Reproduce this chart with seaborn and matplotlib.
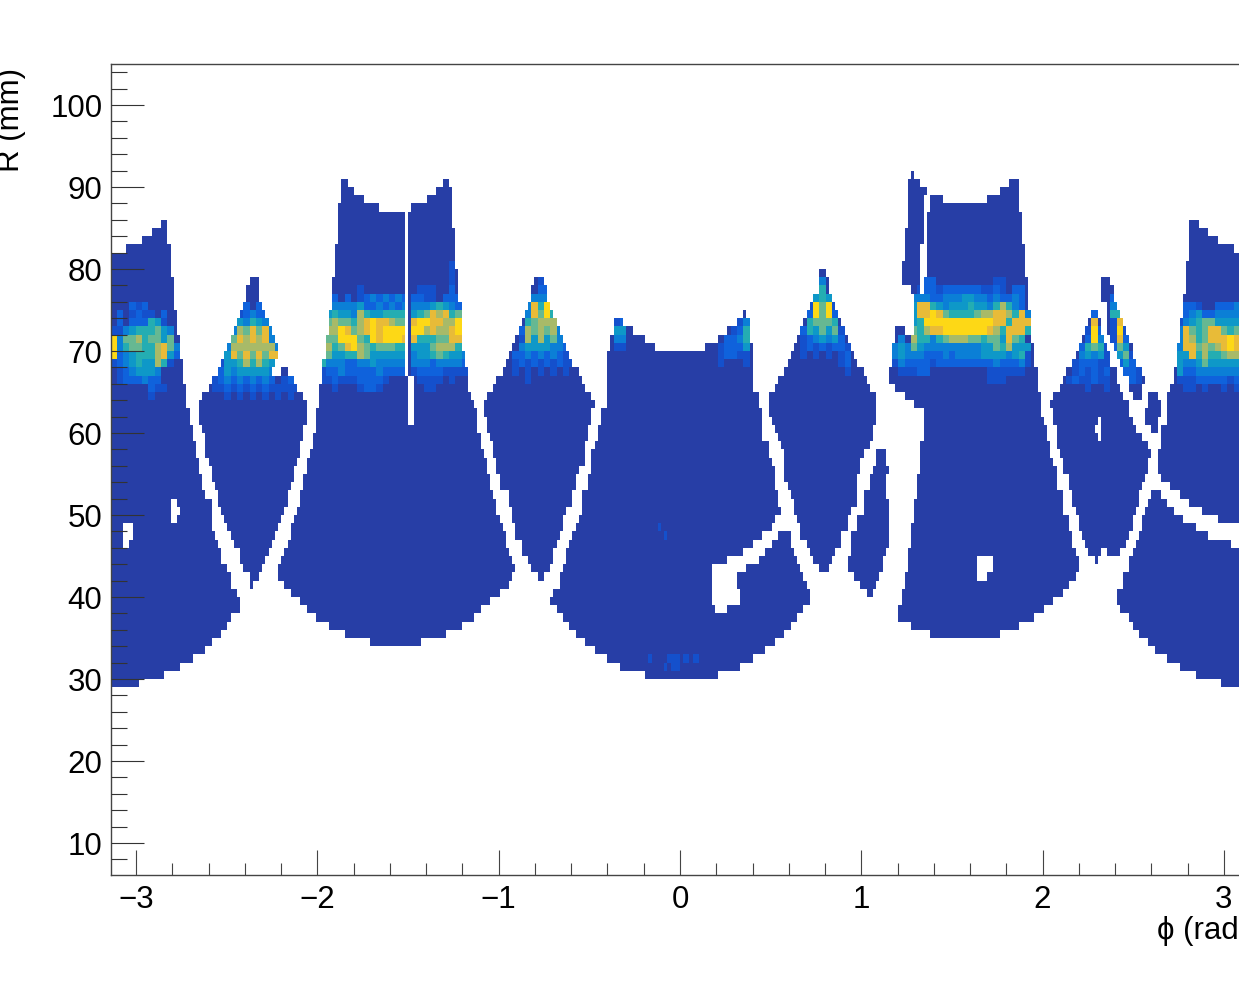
import numpy as np
import pandas as pd
import seaborn as sns
import matplotlib.pyplot as plt
from matplotlib.colors import ListedColormap
from matplotlib.ticker import MultipleLocator

# occupancy map of the detector: phi bins of 1 degree, R bins of 1 mm
# each lobe: first R row, then phi limits of the filled cells for each R row going up
L1_LEFT = [-3.14] * 53 + [-3.05, -2.97, -2.91, -2.86]
L1_RIGHT = [-2.99, -2.85, -2.75, -2.69, -2.61, -2.58, -2.53, -2.50, -2.47, -2.43, -2.43, -2.44, -2.47, -2.48,
            -2.50, -2.53, -2.53, -2.55, -2.56, -2.58, -2.58, -2.59, -2.59, -2.61, -2.63, -2.63, -2.65, -2.65,
            -2.67, -2.67, -2.69, -2.69, -2.71, -2.71, -2.72, -2.72, -2.72, -2.74, -2.74, -2.74, -2.76, -2.76,
            -2.76, -2.77, -2.77, -2.77, -2.80, -2.80, -2.80, -2.80, -2.81, -2.81, -2.81, -2.81, -2.82, -2.82, -2.82]

L2_LEFT = [-2.37, -2.38, -2.40, -2.42, -2.43, -2.46, -2.47, -2.49, -2.51, -2.53, -2.55, -2.55, -2.56, -2.58, -2.58,
           -2.60, -2.62, -2.62, -2.62, -2.64, -2.65, -2.65, -2.65, -2.64, -2.60, -2.58, -2.55, -2.53, -2.51, -2.49,
           -2.47, -2.46, -2.44, -2.42, -2.40, -2.39, -2.39, -2.37]
L2_RIGHT = [-2.36, -2.33, -2.31, -2.29, -2.27, -2.26, -2.24, -2.22, -2.20, -2.18, -2.16, -2.16, -2.15, -2.13, -2.13,
            -2.11, -2.09, -2.09, -2.08, -2.07, -2.06, -2.06, -2.06, -2.07, -2.11, -2.13, -2.25, -2.23, -2.22, -2.22,
            -2.23, -2.25, -2.27, -2.29, -2.31, -2.32, -2.32, -2.33]
L2B_LEFT = [-2.20]
L2B_RIGHT = [-2.16]

L3_LEFT = [-1.71, -1.85, -1.93, -2.00, -2.06, -2.09, -2.14, -2.18, -2.21, -2.21, -2.20, -2.18, -2.16, -2.14, -2.14,
           -2.13, -2.11, -2.09, -2.09, -2.08, -2.08, -2.06, -2.06, -2.05, -2.03, -2.03, -2.01, -2.01, -2.00, -1.99,
           -1.99, -1.99, -1.97, -1.97, -1.97, -1.95, -1.95, -1.95, -1.94, -1.94, -1.94, -1.92, -1.92, -1.92, -1.92,
           -1.90, -1.90, -1.90, -1.90, -1.88, -1.88, -1.88, -1.88, -1.88, -1.86, -1.86, -1.86]
L3_RIGHT = [-1.43, -1.29, -1.20, -1.13, -1.10, -1.05, -0.99, -0.95, -0.93, -0.91, -0.93, -0.94, -0.96, -0.96, -0.98,
            -0.99, -1.01, -1.01, -1.03, -1.05, -1.05, -1.06, -1.06, -1.09, -1.10, -1.10, -1.12, -1.12, -1.12, -1.14,
            -1.15, -1.17, -1.17, -1.17, -1.19, -1.19, -1.20, -1.20, -1.20, -1.20, -1.20, -1.20, -1.22, -1.22, -1.22,
            -1.22, -1.24, -1.24, -1.24, -1.24, -1.24, -1.26, -1.26, -1.26, -1.26, -1.26, -1.27]

L4_LEFT = [-0.79, -0.82, -0.84, -0.87, -0.88, -0.91, -0.91, -0.93, -0.93, -0.95, -0.95, -0.99, -0.99, -1.01, -1.01,
           -1.03, -1.03, -1.05, -1.06, -1.06, -1.08, -1.08, -1.07, -1.03, -1.01, -0.98, -0.96, -0.94, -0.92, -0.91,
           -0.89, -0.87, -0.85, -0.84, -0.82, -0.82, -0.80]
L4_RIGHT = [-0.75, -0.72, -0.70, -0.70, -0.68, -0.66, -0.65, -0.65, -0.62, -0.60, -0.60, -0.57, -0.57, -0.55, -0.52,
            -0.52, -0.52, -0.51, -0.51, -0.49, -0.49, -0.47, -0.49, -0.52, -0.54, -0.56, -0.59, -0.61, -0.63, -0.65,
            -0.67, -0.68, -0.70, -0.72, -0.73, -0.74, -0.75]

L5_LEFT = [-0.20, -0.33, -0.40, -0.47, -0.52, -0.58, -0.61, -0.65, -0.68, -0.72, -0.70, -0.67, -0.67, -0.65, -0.62,
           -0.62, -0.61, -0.59, -0.58, -0.56, -0.54, -0.54, -0.54, -0.51, -0.50, -0.49, -0.49, -0.49, -0.47, -0.46,
           -0.46, -0.43, -0.43, -0.41, -0.41, -0.41, -0.40, -0.40, -0.40, -0.40, -0.38, -0.38, -0.36, -0.36, 0.35]
L5_RIGHT = [0.21, 0.34, 0.40, 0.47, 0.52, 0.58, 0.61, 0.65, 0.68, 0.72, 0.72, 0.69, 0.68, 0.66, 0.65, 0.63, 0.61,
            0.61, 0.50, 0.53, 0.56, 0.54, 0.54, 0.53, 0.53, 0.52, 0.51, 0.49, 0.48, 0.46, 0.46, 0.45, 0.45, 0.44,
            0.44, 0.41, 0.41, 0.41, 0.40, 0.40, 0.40, 0.39, 0.39, 0.39, 0.37]

L6_LEFT = [0.76, 0.73, 0.71, 0.69, 0.67, 0.67, 0.65, 0.63, 0.62, 0.61, 0.60, 0.58, 0.58, 0.58, 0.57, 0.56, 0.54,
           0.52, 0.51, 0.49, 0.49, 0.49, 0.52, 0.54, 0.58, 0.60, 0.61, 0.63, 0.65, 0.67, 0.68, 0.70, 0.72, 0.73,
           0.76, 0.76, 0.77]
L6_RIGHT = [0.82, 0.84, 0.85, 0.89, 0.89, 0.92, 0.92, 0.94, 0.97, 0.97, 0.98, 0.98, 1.00, 1.00, 1.01, 1.05, 1.06,
            1.06, 1.08, 1.08, 1.08, 1.08, 1.05, 1.03, 1.01, 0.98, 0.96, 0.94, 0.93, 0.91, 0.89, 0.87, 0.86, 0.84,
            0.82, 0.82, 0.80]

L6B_LEFT = [1.03, 1.00, 0.96, 0.93, 0.93, 0.94, 0.95, 0.95, 0.98, 0.98, 1.02, 1.02, 1.02, 1.04, 1.05, 1.06, 1.08, 1.09]
L6B_RIGHT = [1.07, 1.09, 1.10, 1.12, 1.12, 1.13, 1.15, 1.15, 1.15, 1.15, 1.15, 1.15, 1.13, 1.13, 1.13, 1.15, 1.14, 1.13]

L7_LEFT = [1.38, 1.27, 1.20, 1.20, 1.22, 1.22, 1.24, 1.24, 1.26, 1.26, 1.26, 1.27, 1.27, 1.27, 1.29, 1.29, 1.29, 1.31,
           1.31, 1.31, 1.33, 1.33, 1.33, 1.33, 1.34, 1.34, 1.34, 1.34, 1.29, 1.24, 1.19, 1.15, 1.15, 1.17, 1.17, 1.17,
           1.19, 1.19, 1.30, 1.30, 1.30, 1.29, 1.35, 1.35, 1.36, 1.36, 1.36, 1.36, 1.36, 1.36, 1.36, 1.36, 1.38, 1.38,
           1.77, 1.81]
L7_RIGHT = [1.76, 1.86, 1.95, 2.00, 2.06, 2.11, 2.15, 2.18, 2.20, 2.20, 2.18, 2.16, 2.16, 2.14, 2.14, 2.12, 2.11, 2.11,
            2.08, 2.08, 2.08, 2.06, 2.05, 2.05, 2.03, 2.03, 2.00, 1.99, 1.99, 1.99, 1.97, 1.97, 1.97, 1.95, 1.95, 1.95,
            1.94, 1.94, 1.94, 1.94, 1.92, 1.92, 1.92, 1.92, 1.90, 1.90, 1.90, 1.90, 1.89, 1.89, 1.89, 1.88, 1.86, 1.86,
            1.86, 1.86]

L7B_LEFT = [1.27, 1.22, 1.22, 1.22, 1.24, 1.24, 1.24, 1.24, 1.26, 1.26, 1.26, 1.26, 1.26, 1.26, 1.27]
L7B_RIGHT = [1.33, 1.33, 1.33, 1.33, 1.33, 1.33, 1.35, 1.35, 1.35, 1.35, 1.35, 1.35, 1.36, 1.33, 1.29]

L8_LEFT = [2.29, 2.26, 2.24, 2.22, 2.20, 2.20, 2.18, 2.16, 2.16, 2.14, 2.14, 2.12, 2.11, 2.10, 2.08, 2.08, 2.07, 2.06,
           2.06, 2.05, 2.06, 2.09, 2.11, 2.13, 2.16, 2.18, 2.20, 2.22, 2.23, 2.26, 2.27]
L8_RIGHT = [2.41, 2.43, 2.46, 2.47, 2.50, 2.50, 2.52, 2.53, 2.53, 2.55, 2.57, 2.58, 2.58, 2.60, 2.58, 2.55, 2.52, 2.50,
            2.48, 2.47, 2.44, 2.43, 2.41, 2.40, 2.38, 2.37, 2.36, 2.34, 2.32, 2.32, 2.31]

L8B_LEFT = [2.50, 2.48, 2.47, 2.44, 2.43, 2.40, 2.39, 2.37, 2.36, 2.36, 2.36, 2.35, 2.33, 2.33, 2.33]
L8B_RIGHT = [2.55, 2.55, 2.56, 2.54, 2.52, 2.50, 2.49, 2.47, 2.46, 2.44, 2.43, 2.41, 2.39, 2.39, 2.38]

L8C_LEFT = [2.60, 2.57, 2.57, 2.59, 2.59]
L8C_RIGHT = [2.64, 2.64, 2.66, 2.66, 2.64]

L9_LEFT = [2.99, 2.85, 2.76, 2.69, 2.62, 2.58, 2.53, 2.50, 2.47, 2.43, 2.41, 2.41, 2.44, 2.45, 2.47, 2.48, 2.50, 2.52,
           2.53, 2.55, 2.55, 2.57, 2.58, 2.60, 2.71, 2.66, 2.63, 2.64, 2.64, 2.66, 2.66, 2.66, 2.68, 2.69, 2.69, 2.69,
           2.71, 2.73, 2.73, 2.74, 2.74, 2.74, 2.76, 2.76, 2.76, 2.78, 2.78, 2.78, 2.80, 2.80, 2.80, 2.80, 2.81, 2.81,
           2.81, 2.81, 2.81]
L9_RIGHT = [3.14] * 53 + [3.06, 2.97, 2.91, 2.86]

LOBES = [(29, L1_LEFT, L1_RIGHT), (41, L2_LEFT, L2_RIGHT), (67, L2B_LEFT, L2B_RIGHT), (34, L3_LEFT, L3_RIGHT),
         (42, L4_LEFT, L4_RIGHT), (30, L5_LEFT, L5_RIGHT), (43, L6_LEFT, L6_RIGHT), (40, L6B_LEFT, L6B_RIGHT),
         (35, L7_LEFT, L7_RIGHT), (77, L7B_LEFT, L7B_RIGHT), (44, L8_LEFT, L8_RIGHT), (64, L8B_LEFT, L8B_RIGHT),
         (60, L8C_LEFT, L8C_RIGHT), (29, L9_LEFT, L9_RIGHT)]

# empty cells inside the lobes
HOLE_ROWS = [46, 47, 48, 49, 50, 51, 87, 88, 89, 90]
HOLE_LO = [-3.07, -3.07, -3.07, -2.81, -2.81, -2.81, -1.66, -1.74, -1.79, -1.83]
HOLE_HI = [-3.04, -3.02, -3.02, -2.77, -2.76, -2.77, -1.48, -1.40, -1.34, -1.31]
STRIPE_ROWS = list(range(67, 87))
STRIPE_LO = -1.52
STRIPE_HI = -1.50
STRIPE2_ROWS = list(range(61, 67))
STRIPE2_LO = -1.50
STRIPE2_HI = -1.46
HOLE2_ROWS = [70, 71, 72, 73, 47, 46, 45, 44, 43, 42, 41, 40, 39, 38]
HOLE2_LO = [-0.14, -0.20, -0.26, -0.31, 0.46, 0.40, 0.35, 0.26, 0.18, 0.18, 0.18, 0.18, 0.18, 0.19]
HOLE2_HI = [0.14, 0.21, 0.26, 0.31, 0.54, 0.51, 0.47, 0.44, 0.37, 0.31, 0.31, 0.34, 0.34, 0.26]
HOLE3_ROWS = [72, 88, 44, 43, 42, 45, 44, 61, 60, 59, 46, 47, 48, 49, 50, 51, 52]
HOLE3_LO = [1.24, 1.45, 1.64, 1.64, 1.64, 2.33, 2.31, 2.31, 2.29, 2.31, 3.04, 2.92, 2.85, 2.77, 2.72, 2.69, 2.66]
HOLE3_HI = [1.30, 1.69, 1.72, 1.72, 1.69, 2.36, 2.40, 2.33, 2.33, 2.33, 3.14, 3.14, 3.14, 2.97, 2.88, 2.81, 2.76]

# few isolated cells slightly above the floor
DOT_ROWS = [48, 47, 32, 32, 32, 32, 31, 31]
DOT_LO = [-0.13, -0.09, -0.18, -0.07, 0.015, 0.07, -0.09, -0.05]
DOT_HI = [-0.105, -0.065, -0.155, 0.0, 0.055, 0.105, -0.065, 0.0]

# intensity levels around R = 70 mm, one digit per 2 degrees, first string is the top row
BAND_1 = ["00021200000", "02012110200", "02022254100", "11345556430", "93667566460", "93566557863", "92345557842",
          "12345447510", "01234443000", "01222322000", "00000021100", "00000010000"]
BAND_2 = ["000002020000000", "000012322000000", "000043543400000", "000376868300000", "000687878300000",
          "003777777730000", "004868686880000", "014457575430000", "024344444300000", "123232323201200",
          "112121212111110", "001010101010100"]
BAND_3 = ["00000010000000", "00202012323232", "01333342232323", "04544375445555", "06766578988766", "07798678989999",
          "36699965989998", "57568976566655", "76445576444444", "53332233433333", "12232222232222", "11211122221000",
          "00100012210000"]
BAND_3B = ["000000100", "000000100", "000000100", "011100200", "221102223", "333454320", "456878566", "899887799",
           "997877899", "855566885", "444677754", "344565443", "333233332", "122221111", "011110100", "001100000"]
BAND_4 = ["000001100000", "000002200000", "000033330000", "000385930000", "000386952000", "000567773000",
          "002767673000", "001747463100", "003444433200", "022323232100", "012121212110", "010101010100",
          "000100000000"]
BAND_5 = ["12", "44", "33", "11"]
BAND_5B = ["000130", "001250", "022350", "122240", "122110", "100010"]
BAND_6 = ["0000300000", "0000500000", "0004540000", "0019691000", "0029692000", "0056665000", "0254646100",
          "0123434200", "0121212210", "0101010120", "0000000120", "0000000010"]
BAND_7 = ["0000022000000000110000", "0000122122222211210220", "0003332233344332322320", "0004885434445443575320",
          "0004889865555677887583", "0004599999999999885888", "0006578899999998758885", "0307553567776656648650",
          "3436433333333344657444", "3433322232333344443451", "1322221222222222322231", "0111220000000001111110",
          "0000000000000001110000"]
BAND_8 = ["0000020000", "0000080000", "0000192000", "0000293000", "0002565100", "0003434100", "0012221100",
          "0012121200", "0121121100", "0000100100"]
BAND_8B = ["0200000", "0320000", "0550000", "0180000", "0191000", "0182000", "0264000", "0046100", "0024200",
           "0002210", "0001210"]
BAND_9 = ["0221002223", "0234223333", "1345664444", "3865688656", "3875688898", "3886767898", "4485755677",
          "4334644444", "4223333333", "1112222212", "0110100101"]

# (phi of first digit, R row of first string, strings)
BANDS = [(-3.14, 75, BAND_1), (-2.58, 75, BAND_2), (-1.99, 77, BAND_3), (-1.48, 80, BAND_3B), (-0.96, 78, BAND_4),
         (-0.36, 73, BAND_5), (0.208, 73, BAND_5B), (0.63, 78, BAND_6), (1.173, 78, BAND_7), (2.092, 74, BAND_8),
         (2.337, 76, BAND_8B), (2.739, 75, BAND_9)]

# ROOT bird style palette, level 0 is the floor of the map
LEVEL_COLORS = ['#273ea6', '#1450cc', '#0f62dc', '#0b7fd6', '#0e98c8', '#24adb2', '#66b892', '#a8ba68', '#e8bb38',
                '#fdd816']

PHI_LABEL = 'ϕ (rad)'
R_LABEL = 'R (mm)'


def build_grid():
    phi_edges = np.linspace(-np.pi, np.pi, 361)
    r_edges = np.arange(6, 106)
    centers = (phi_edges[:-1] + phi_edges[1:]) / 2
    grid = np.zeros((360, 99))

    def fill(row, lo, hi, value):
        grid[(centers >= lo) & (centers < hi), row - 6] = value

    for first_row, left, right in LOBES:
        for i in range(len(left)):
            fill(first_row + i, left[i], right[i], 1)

    for row, lo, hi in zip(HOLE_ROWS, HOLE_LO, HOLE_HI):
        fill(row, lo, hi, 0)
    for row in STRIPE_ROWS:
        fill(row, STRIPE_LO, STRIPE_HI, 0)
    for row in STRIPE2_ROWS:
        fill(row, STRIPE2_LO, STRIPE2_HI, 0)
    for row, lo, hi in zip(HOLE2_ROWS, HOLE2_LO, HOLE2_HI):
        fill(row, lo, hi, 0)
    for row, lo, hi in zip(HOLE3_ROWS, HOLE3_LO, HOLE3_HI):
        fill(row, lo, hi, 0)
    for row, lo, hi in zip(DOT_ROWS, DOT_LO, DOT_HI):
        fill(row, lo, hi, 2)

    # the band only colours cells that are already filled
    step = 2 * np.pi / 180
    for start, top_row, strings in BANDS:
        for i, digits in enumerate(strings):
            for j, digit in enumerate(digits):
                if digit == '0':
                    continue
                sel = (centers >= start + j * step) & (centers < start + (j + 1) * step)
                col = grid[:, top_row - i - 6]
                col[sel & (col > 0)] = int(digit) + 1

    return phi_edges, r_edges, centers, grid


def main():
    phi_edges, r_edges, centers, grid = build_grid()
    ix, iy = np.nonzero(grid)
    df = pd.DataFrame({'phi': centers[ix], 'R': iy + 6.5, 'level': grid[ix, iy]})

    sns.set_style('white')
    plt.rcParams['font.family'] = ['Liberation Sans', 'DejaVu Sans']
    plt.rcParams['axes.edgecolor'] = '#444444'
    plt.rcParams['axes.linewidth'] = 1.0
    plt.rcParams['text.color'] = 'black'
    plt.rcParams['xtick.labelcolor'] = 'black'
    plt.rcParams['ytick.labelcolor'] = 'black'

    fig = plt.figure(figsize=(12.39, 9.91), dpi=100)
    # the frame runs past the right side of the picture, as in the original crop
    ax = fig.add_axes([110.7 / 1239, (991 - 875) / 991, (1249.3 - 110.7) / 1239, (875 - 64) / 991])

    sns.histplot(data=df, x='phi', y='R', weights='level', bins=[phi_edges, r_edges], ax=ax,
                 cmap=ListedColormap(LEVEL_COLORS), vmin=0.5, vmax=10.5, thresh=0, linewidth=0)

    ax.set_xlim(-3.14, 3.14)
    ax.set_ylim(6.1, 105)
    ax.set_xlabel('')
    ax.set_ylabel('')

    ax.xaxis.set_major_locator(MultipleLocator(1))
    ax.xaxis.set_minor_locator(MultipleLocator(0.2))
    ax.yaxis.set_major_locator(MultipleLocator(10))
    ax.yaxis.set_minor_locator(MultipleLocator(2))
    ax.tick_params(axis='x', which='major', direction='in', length=18, width=0.8, color='#444444', pad=7,
                   labelsize=22.5, labelcolor='black', bottom=True, top=False)
    ax.tick_params(axis='x', which='minor', direction='in', length=8.6, width=0.8, color='#444444', bottom=True,
                   top=False)
    ax.tick_params(axis='y', which='major', direction='in', length=24, width=0.8, color='#333333', pad=6,
                   labelsize=22.5, labelcolor='black', left=True, right=False)
    ax.tick_params(axis='y', which='minor', direction='in', length=11.5, width=0.8, color='#333333', left=True,
                   right=False)
    ax.set_axisbelow(False)

    fig.text(1157 / 1239, 1 - 931 / 991, PHI_LABEL, fontsize=22.5, ha='left', va='center', color='black')
    fig.text(11 / 1239, 1 - 172 / 991, R_LABEL, fontsize=22.5, rotation=90, ha='center', va='bottom', color='black')

    plt.savefig('out.png', dpi=100)
    plt.close()


if __name__ == "__main__":
    main()
